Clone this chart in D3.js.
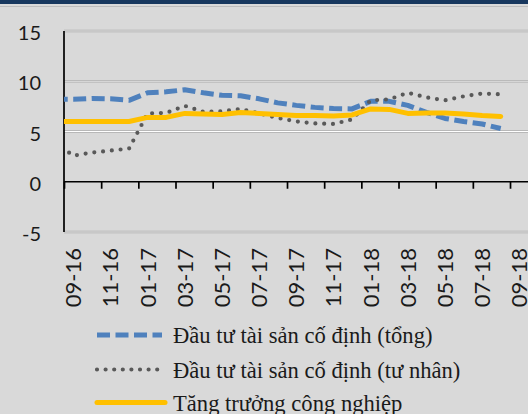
<!DOCTYPE html>
<html>
<head>
<meta charset="utf-8">
<script src="https://cdn.jsdelivr.net/npm/d3@7"></script>
<style>
  html, body { margin: 0; padding: 0; background: #d9d9d9; }
  svg { display: block; }
</style>
</head>
<body>
<svg id="chart" width="528" height="414"></svg>
<script>
// ---- data ----
const dataMonths = ["08-16","09-16","10-16","11-16","12-16","01-17","02-17","03-17","04-17","05-17","06-17","07-17","08-17","09-17","10-17","11-17","12-17","01-18","02-18","03-18","04-18","05-18","06-18","07-18","08-18"];
const fixedTotal   = [8.2, 8.2, 8.28, 8.25, 8.1, 8.85, 8.95, 9.15, 8.85, 8.6, 8.55, 8.25, 7.85, 7.6, 7.4, 7.28, 7.25, 8.0, 8.0, 7.6, 6.9, 6.3, 6.0, 5.75, 5.3];
const fixedPrivate = [3.9, 2.6, 2.9, 3.1, 3.3, 6.8, 6.85, 7.55, 6.95, 7.0, 7.25, 6.8, 6.35, 6.0, 5.8, 5.75, 6.2, 8.1, 8.2, 8.85, 8.4, 8.1, 8.5, 8.78, 8.7];
const industry     = [6.0, 6.0, 6.0, 6.0, 6.0, 6.4, 6.4, 6.8, 6.75, 6.7, 6.9, 6.8, 6.7, 6.6, 6.6, 6.55, 6.65, 7.25, 7.2, 6.8, 6.85, 6.85, 6.75, 6.6, 6.5];
const xTickLabels = ["09-16","11-16","01-17","03-17","05-17","07-17","09-17","11-17","01-18","03-18","05-18","07-18","09-18"];
const yTicks = [15, 10, 5, 0, -5];
const seriesNames = ["Đầu tư tài sản cố định (tổng)", "Đầu tư tài sản cố định (tư nhân)", "Tăng trưởng công nghiệp"];

// ---- helpers ----
const monthNum = s => { const [m, y] = s.split("-").map(Number); return y * 12 + (m - 1); };

const svg = d3.select("#chart");
const W = 528, H = 414;
const plotLeft = 64, plotRight = 528.6, plotTop = 31, plotBottom = 232;

const x = d3.scaleLinear()
  .domain([monthNum(xTickLabels[0]) - 0.5, monthNum(xTickLabels[xTickLabels.length - 1]) + 0.5])
  .range([plotLeft, plotRight]);
const y = d3.scaleLinear().domain([-5, 15]).range([plotBottom, plotTop]);

// background & header band
svg.append("rect").attr("width", W).attr("height", H).attr("fill", "#d9d9d9");
svg.append("rect").attr("width", W).attr("height", 4).attr("fill", "#17375e");
svg.append("line").attr("x1", 0).attr("x2", W).attr("y1", 6.5).attr("y2", 6.5)
  .attr("stroke", "#bdbdbd").attr("stroke-width", 1);

// gridlines
const grid = svg.append("g");
yTicks.filter(v => v !== 0).forEach(v => {
  grid.append("line").attr("x1", plotLeft).attr("x2", W)
    .attr("y1", y(v)).attr("y2", y(v))
    .attr("stroke", "#acacac").attr("stroke-width", 2.6);
  grid.append("line").attr("x1", plotLeft).attr("x2", W)
    .attr("y1", y(v)).attr("y2", y(v))
    .attr("stroke", v === 5 ? "#ffffff" : "#e4e4e4").attr("stroke-width", 1);
});

// y axis labels
svg.append("g").selectAll("text").data(yTicks).join("text")
  .attr("x", 41).attr("y", d => y(d) + 1)
  .attr("text-anchor", "end").attr("dominant-baseline", "central")
  .attr("font-family", "Lato, 'Open Sans', sans-serif").attr("font-size", 20)
  .attr("fill", "#1a1a1a")
  .text(d => d);

// vertical axis line
svg.append("line").attr("x1", plotLeft).attr("x2", plotLeft)
  .attr("y1", y(15)).attr("y2", y(-5))
  .attr("stroke", "#000").attr("stroke-width", 1.7);

// horizontal axis at 0 with ticks
const xAxis = d3.axisBottom(x)
  .tickValues(d3.range(0, xTickLabels.length).map(i => monthNum(xTickLabels[i]) - 0.5))
  .tickSize(7).tickFormat("");
const gx = svg.append("g").attr("transform", `translate(0,${y(0)})`).call(xAxis);
gx.select(".domain").attr("stroke", "#000").attr("stroke-width", 1.7)
  .attr("d", `M${plotLeft},0H${W}`);
gx.selectAll(".tick line").attr("stroke", "#000").attr("stroke-width", 1.7);

// x tick labels (rotated)
svg.append("g").selectAll("text").data(xTickLabels).join("text")
  .attr("transform", d => `translate(${x(monthNum(d))},248) rotate(-90)`)
  .attr("text-anchor", "end").attr("dy", "0.36em")
  .attr("font-family", "Lato, 'Open Sans', sans-serif").attr("font-size", 22)
  .attr("fill", "#1a1a1a")
  .text(d => d);

// clip for lines
svg.append("clipPath").attr("id", "plotclip").append("rect")
  .attr("x", plotLeft).attr("y", 0).attr("width", W - plotLeft).attr("height", H);

const line = d3.line()
  .x((d, i) => x(monthNum(dataMonths[i])))
  .y(d => y(d));

const lines = svg.append("g").attr("clip-path", "url(#plotclip)");
lines.append("path").attr("d", line(fixedTotal))
  .attr("fill", "none").attr("stroke", "#4f81bd").attr("stroke-width", 5)
  .attr("stroke-dasharray", "13,5.5").attr("stroke-linejoin", "round");
lines.append("path").attr("d", line(fixedPrivate))
  .attr("fill", "none").attr("stroke", "#595959").attr("stroke-width", 4.2)
  .attr("stroke-dasharray", "0,8.8").attr("stroke-linecap", "round").attr("stroke-linejoin", "round");
lines.append("path").attr("d", line(industry))
  .attr("fill", "none").attr("stroke", "#ffc000").attr("stroke-width", 5)
  .attr("stroke-linejoin", "round").attr("stroke-linecap", "round");

// legend
const legend = svg.append("g");
const legendRows = [
  { y: 335, stroke: "#4f81bd", width: 5, dash: "13,5.5", cap: "butt", x2: 162 },
  { y: 369.5, stroke: "#595959", width: 4.2, dash: "0,8.6", cap: "round", x2: 162 },
  { y: 402.5, stroke: "#ffc000", width: 5, dash: null, cap: "round", x2: 165 }
];
legendRows.forEach((r, i) => {
  legend.append("line").attr("x1", 97).attr("x2", r.x2).attr("y1", r.y).attr("y2", r.y)
    .attr("stroke", r.stroke).attr("stroke-width", r.width)
    .attr("stroke-dasharray", r.dash).attr("stroke-linecap", r.cap);
  legend.append("text").attr("x", 173).attr("y", r.y + 8)
    .attr("font-family", "'Liberation Serif', 'DejaVu Serif', serif").attr("font-size", 22.6)
    .attr("fill", "#1a1a1a")
    .text(seriesNames[i]);
});
</script>
</body>
</html>
